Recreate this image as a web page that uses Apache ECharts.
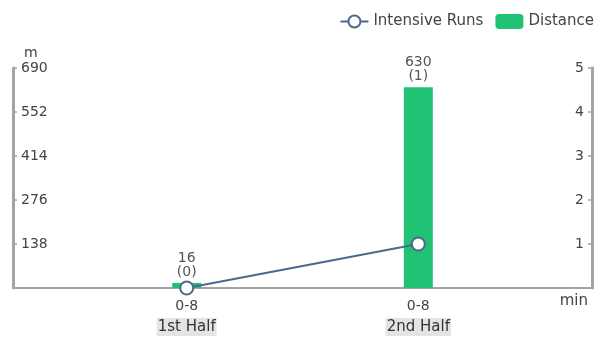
<!DOCTYPE html>
<html>
<head>
<meta charset="utf-8">
<style>
  html, body { margin: 0; padding: 0; background: #fff; }
  #chart { width: 596px; height: 341px; }
</style>
<script src="https://cdn.jsdelivr.net/npm/echarts@6/dist/echarts.min.js"></script>
</head>
<body>
<div id="chart"></div>
<script>
// Match periods and their minute ranges
const periods = ['1st Half', '2nd Half'];
const minuteRanges = ['0-8', '0-8'];
// Distance covered (m) and count of intensive runs per period
const distance = [16, 630];
const intensiveRuns = [0, 1];
// Left axis tick values (m)
const distanceTicks = [0, 138, 276, 414, 552, 690];

const FONT = 'DejaVu Sans';
const GREEN = '#22c274';
const LINE = '#4d6890';
const AXIS = '#a4a4a4';

const chart = echarts.init(document.getElementById('chart'), null, { renderer: 'canvas' });

const barData = distance.map((v, i) => [i, v]);
const lineData = intensiveRuns.map((v, i) => [i, v]);

const yLabel = {
  inside: true, margin: 8, fontFamily: FONT, fontSize: 14, color: '#444',
  formatter: v => (v === 0 ? '' : String(v))
};

chart.setOption({
  animation: false,
  textStyle: { fontFamily: FONT },
  legend: {
    right: -3,
    top: 9,
    itemGap: 12,
    itemWidth: 28,
    itemHeight: 15,
    textStyle: { fontFamily: FONT, fontSize: 15, color: '#444' },
    data: [
      { name: 'Intensive Runs' },
      { name: 'Distance', icon: 'roundRect' }
    ]
  },
  grid: { left: 13, right: 4, top: 68, bottom: 53 },
  xAxis: {
    type: 'value',
    min: -0.75,
    max: 1.75,
    interval: 0.25,
    splitLine: { show: false },
    axisTick: { show: false },
    axisLine: { show: true, onZero: false, lineStyle: { color: AXIS, width: 2 } },
    axisLabel: {
      showMinLabel: true,
      showMaxLabel: true,
      margin: 7,
      formatter: function (v) {
        const i = Math.round(v);
        if (Math.abs(v - i) > 1e-6 || i < 0 || i >= periods.length) return '';
        return '{r|' + minuteRanges[i] + '}\n{p|' + periods[i] + '}';
      },
      rich: {
        r: { fontFamily: FONT, fontSize: 14, color: '#444', lineHeight: 22 },
        p: {
          fontFamily: FONT, fontSize: 15, color: '#333',
          backgroundColor: '#e4e4e4', padding: [2, 1, 1, 1], lineHeight: 20
        }
      }
    }
  },
  yAxis: [
    {
      type: 'value',
      min: distanceTicks[0],
      max: distanceTicks[distanceTicks.length - 1],
      interval: distanceTicks[1] - distanceTicks[0],
      name: 'm',
      nameLocation: 'end',
      nameGap: 8,
      nameTextStyle: { fontFamily: FONT, fontSize: 14, color: '#444', align: 'left', padding: [0, 0, 0, 11] },
      splitLine: { show: false },
      axisLine: { show: true, onZero: false, lineStyle: { color: AXIS, width: 3 } },
      axisTick: { show: true, inside: true, length: 4, lineStyle: { color: AXIS, width: 1.5 } },
      axisLabel: yLabel
    },
    {
      type: 'value',
      min: 0,
      max: 5,
      interval: 1,
      position: 'right',
      name: 'min',
      nameLocation: 'start',
      nameGap: 6,
      nameTextStyle: { fontFamily: FONT, fontSize: 15, color: '#444', align: 'right', padding: [0, 4, 0, 0] },
      splitLine: { show: false },
      axisLine: { show: true, onZero: false, lineStyle: { color: AXIS, width: 3 } },
      axisTick: { show: true, inside: true, length: 4, lineStyle: { color: AXIS, width: 1.5 } },
      axisLabel: yLabel
    }
  ],
  series: [
    {
      name: 'Distance',
      type: 'bar',
      yAxisIndex: 0,
      barWidth: 29,
      itemStyle: { color: GREEN },
      data: barData,
      label: {
        show: true,
        position: 'top',
        distance: 4,
        fontFamily: FONT,
        fontSize: 14,
        lineHeight: 14,
        color: '#555',
        formatter: p => distance[p.dataIndex] + '\n(' + intensiveRuns[p.dataIndex] + ')'
      },
      z: 2
    },
    {
      name: 'Intensive Runs',
      type: 'line',
      yAxisIndex: 1,
      symbol: 'emptyCircle',
      symbolSize: 13,
      lineStyle: { color: LINE, width: 2 },
      itemStyle: { color: LINE, borderColor: LINE, borderWidth: 1.5 },
      data: lineData,
      z: 3
    }
  ]
});
</script>
</body>
</html>
